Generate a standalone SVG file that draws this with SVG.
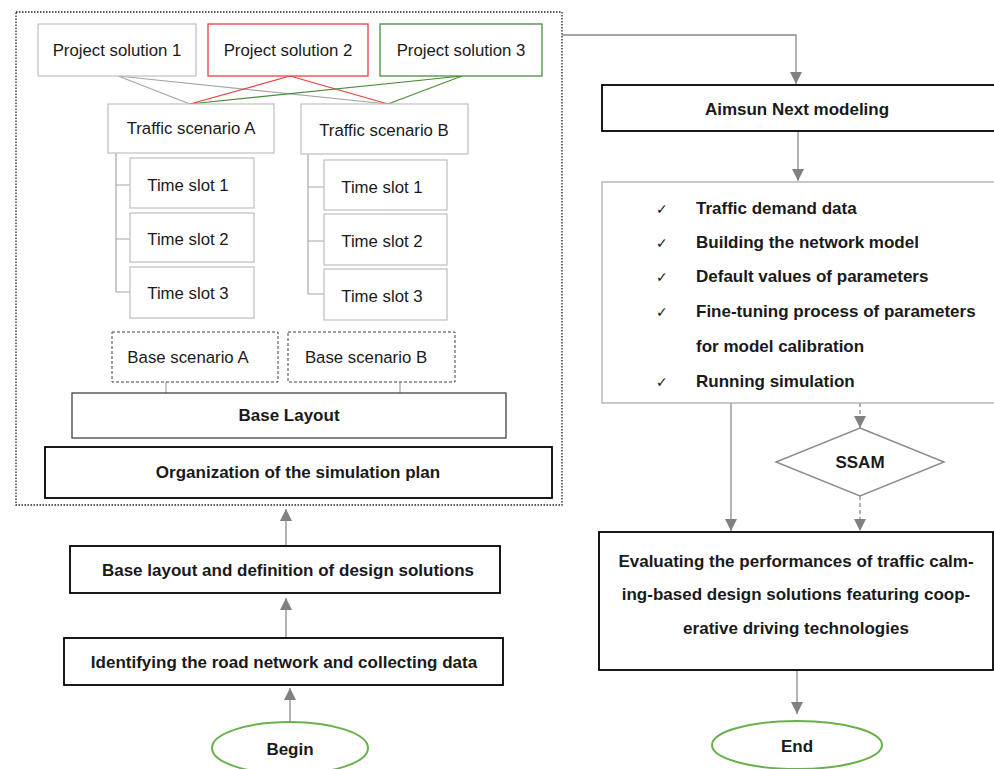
<svg xmlns="http://www.w3.org/2000/svg" width="994" height="769" viewBox="0 0 994 769">
<style>
text{font-family:"Liberation Sans",Arial,sans-serif;fill:#1a1a1a}
.r{font-size:16.8px}
.b{font-size:17px;font-weight:bold}
.ck{font-family:"DejaVu Sans",sans-serif;font-size:14px}
.box{fill:#fff;stroke:#bfbfbf;stroke-width:1.2}
.dash{fill:#fff;stroke:#404040;stroke-width:1;stroke-dasharray:3,2}
.thick{fill:#fff;stroke:#000;stroke-width:1.8}
.mid{fill:#fff;stroke:#333;stroke-width:1.2}
.ln{fill:none;stroke:#a6a6a6;stroke-width:1.2}
.ar{fill:none;stroke:#8c8c8c;stroke-width:1.3;marker-end:url(#ah)}
.ard{fill:none;stroke:#8c8c8c;stroke-width:1.3;stroke-dasharray:4,3;marker-end:url(#ah)}
.ell{fill:#fff;stroke:#6ab04c;stroke-width:2}
</style>
<defs>
<marker id="ah" viewBox="0 0 10 10" refX="10" refY="5" markerWidth="12" markerHeight="12" markerUnits="userSpaceOnUse" orient="auto">
<path d="M0,0L10,5L0,10z" fill="#808080"/>
</marker>
</defs>
<rect width="994" height="769" fill="#fff"/>
<g id="plan-container">
<rect x="16" y="12" width="546" height="493" fill="none" stroke="#222" stroke-width="1.3" stroke-dasharray="1.5,1.5"/>
</g>
<g id="connectors">
<line x1="118" y1="76" x2="190" y2="104" stroke="#a6a6a6" stroke-width="1.2"/>
<line x1="118" y1="76" x2="388" y2="104" stroke="#a6a6a6" stroke-width="1.2"/>
<line x1="290" y1="76" x2="190" y2="104" stroke="#e84040" stroke-width="1.2"/>
<line x1="290" y1="76" x2="388" y2="104" stroke="#e84040" stroke-width="1.2"/>
<line x1="462" y1="76" x2="190" y2="104" stroke="#4a8c3a" stroke-width="1.2"/>
<line x1="462" y1="76" x2="388" y2="104" stroke="#4a8c3a" stroke-width="1.2"/>
<path class="ln" d="M116,153V292M116,185H130M116,239H130M116,292H130"/>
<path class="ln" d="M308,154V294M308,187H324M308,241H324M308,294H324"/>
<path class="ln" d="M166,382V393M400,382V393"/>
<path class="ar" d="M286,545V509"/>
<path class="ar" d="M286,638V598"/>
<path class="ar" d="M290,722V688"/>
<path class="ar" d="M562,35H796V84"/>
<path class="ar" d="M798,131V181"/>
<path class="ar" d="M731,403V531"/>
<path class="ard" d="M860,403V428"/>
<path class="ard" d="M860,496V531"/>
<path class="ar" d="M797,670V714"/>
</g>
<g id="ps1"><rect class="box" x="38" y="24" width="158" height="52"/><text class="r" x="117" y="56" text-anchor="middle">Project solution 1</text></g>
<g id="ps2"><rect x="208" y="24" width="160" height="52" fill="#fff" stroke="#e84040" stroke-width="1.3"/><text class="r" x="288" y="56" text-anchor="middle">Project solution 2</text></g>
<g id="ps3"><rect x="380" y="24" width="162" height="52" fill="#fff" stroke="#4a8c3a" stroke-width="1.3"/><text class="r" x="461" y="56" text-anchor="middle">Project solution 3</text></g>
<g id="tsA"><rect class="box" x="108" y="104" width="166" height="49"/><text class="r" x="191" y="134" text-anchor="middle">Traffic scenario A</text></g>
<g id="tsB"><rect class="box" x="301" y="104" width="167" height="50"/><text class="r" x="384" y="136" text-anchor="middle">Traffic scenario B</text></g>
<g id="tsA1"><rect class="box" x="130" y="158" width="124" height="50"/><text class="r" x="188" y="191" text-anchor="middle">Time slot 1</text></g>
<g id="tsA2"><rect class="box" x="130" y="213" width="124" height="49"/><text class="r" x="188" y="245" text-anchor="middle">Time slot 2</text></g>
<g id="tsA3"><rect class="box" x="130" y="267" width="124" height="51"/><text class="r" x="188" y="299" text-anchor="middle">Time slot 3</text></g>
<g id="tsB1"><rect class="box" x="324" y="160" width="123" height="50"/><text class="r" x="382" y="193" text-anchor="middle">Time slot 1</text></g>
<g id="tsB2"><rect class="box" x="324" y="214" width="123" height="51"/><text class="r" x="382" y="247" text-anchor="middle">Time slot 2</text></g>
<g id="tsB3"><rect class="box" x="324" y="269" width="123" height="51"/><text class="r" x="382" y="302" text-anchor="middle">Time slot 3</text></g>
<g id="baseA"><rect class="dash" x="112" y="332" width="166" height="50"/><text class="r" x="188" y="363" text-anchor="middle">Base scenario A</text></g>
<g id="baseB"><rect class="dash" x="288" y="332" width="167" height="50"/><text class="r" x="366" y="363" text-anchor="middle">Base scenario B</text></g>
<g id="baseLayout"><rect class="mid" x="72" y="393" width="434" height="45"/><text class="b" x="289" y="421" text-anchor="middle">Base Layout</text></g>
<g id="organization"><rect class="thick" x="45" y="447" width="507" height="51"/><text class="b" x="298" y="478" text-anchor="middle">Organization of the simulation plan</text></g>
<g id="definition"><rect class="thick" x="70" y="546" width="430" height="47"/><text class="b" x="288" y="576" text-anchor="middle">Base layout and definition of design solutions</text></g>
<g id="identifying"><rect class="thick" x="64" y="638" width="439" height="47"/><text class="b" x="284" y="668" text-anchor="middle">Identifying the road network and collecting data</text></g>
<g id="begin"><ellipse class="ell" cx="290" cy="748" rx="78" ry="26"/><text class="b" x="290" y="755" text-anchor="middle">Begin</text></g>
<g id="aimsun"><rect class="thick" x="602" y="85" width="400" height="46"/><text class="b" x="797" y="115" text-anchor="middle">Aimsun Next modeling</text></g>
<g id="checklist"><rect x="602" y="182" width="400" height="221" fill="#fff" stroke="#a6a6a6" stroke-width="1.2"/>
<text class="ck" x="656" y="214">✓</text><text class="b" x="696" y="214">Traffic demand data</text>
<text class="ck" x="656" y="248">✓</text><text class="b" x="696" y="248">Building the network model</text>
<text class="ck" x="656" y="282">✓</text><text class="b" x="696" y="282">Default values of parameters</text>
<text class="ck" x="656" y="317">✓</text><text class="b" x="696" y="317">Fine-tuning process of parameters</text>
<text class="b" x="696" y="352">for model calibration</text>
<text class="ck" x="656" y="387">✓</text><text class="b" x="696" y="387">Running simulation</text>
</g>
<g id="ssam"><polygon points="860,428 944,462 860,496 776,462" fill="#fff" stroke="#8c8c8c" stroke-width="1.5"/><text class="b" x="860" y="468" text-anchor="middle">SSAM</text></g>
<g id="evaluating"><rect class="thick" x="599" y="532" width="394" height="138"/>
<text class="b" x="796" y="567" text-anchor="middle">Evaluating the performances of traffic calm-</text>
<text class="b" x="796" y="600" text-anchor="middle">ing-based design solutions featuring coop-</text>
<text class="b" x="796" y="634" text-anchor="middle">erative driving technologies</text>
</g>
<g id="end"><ellipse class="ell" cx="797" cy="745" rx="85" ry="24"/><text class="b" x="797" y="752" text-anchor="middle">End</text></g>
</svg>
